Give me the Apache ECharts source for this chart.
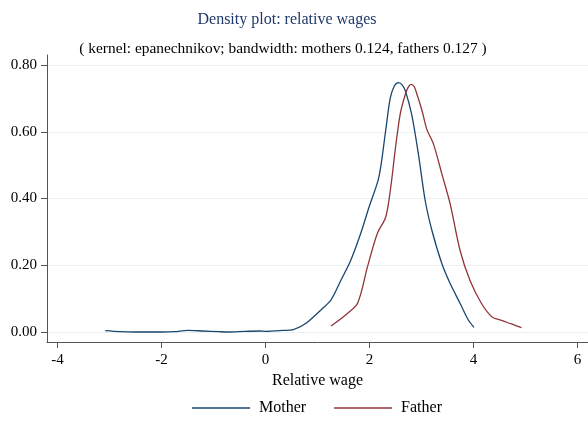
<!DOCTYPE html>
<html>
<head>
<meta charset="utf-8">
<script src="https://cdn.jsdelivr.net/npm/echarts@6/dist/echarts.min.js"></script>
<style>
    html, body { margin: 0; padding: 0; background: #fff; }
    #chart { width: 588px; height: 422px; }
</style>
</head>
<body>
<div id="chart"></div>
<script>
// --- data ---
const motherX = [-3.08, -2.8, -2.5, -2.0, -1.75, -1.5, -1.2, -0.9, -0.7, -0.4, -0.1, 0.0, 0.27, 0.55, 0.78, 1.10, 1.26, 1.45, 1.64, 1.83, 1.99, 2.18, 2.31, 2.40, 2.48, 2.56, 2.63, 2.69, 2.81, 2.94, 3.07, 3.20, 3.39, 3.55, 3.74, 3.90, 4.01];
const motherY = [0.004, 0.001, 0.0, 0.0, 0.001, 0.005, 0.003, 0.001, 0.0, 0.002, 0.003, 0.002, 0.004, 0.008, 0.026, 0.071, 0.096, 0.155, 0.215, 0.295, 0.374, 0.464, 0.603, 0.702, 0.738, 0.747, 0.740, 0.722, 0.652, 0.533, 0.394, 0.304, 0.205, 0.145, 0.086, 0.036, 0.014];
const fatherX = [1.26, 1.54, 1.77, 1.96, 2.15, 2.31, 2.40, 2.50, 2.59, 2.69, 2.75, 2.80, 2.86, 2.91, 3.01, 3.10, 3.23, 3.39, 3.55, 3.74, 3.93, 4.15, 4.35, 4.55, 4.73, 4.92];
const fatherY = [0.018, 0.051, 0.086, 0.195, 0.295, 0.344, 0.424, 0.553, 0.653, 0.713, 0.735, 0.742, 0.735, 0.713, 0.663, 0.608, 0.563, 0.474, 0.384, 0.245, 0.155, 0.086, 0.046, 0.034, 0.024, 0.013];
const xTicks = [-4, -2, 0, 2, 4, 6];
const yTicks = [0, 0.2, 0.4, 0.6, 0.8];

const serif = '"Liberation Serif", "DejaVu Serif", serif';
const chart = echarts.init(document.getElementById('chart'));

const pairs = (xs, ys) => xs.map((x, i) => [x, ys[i]]);
const lineIcon = 'path://M0,0 L60,0 L60,1.4 L0,1.4 Z';

chart.setOption({
    animation: false,
    backgroundColor: '#fff',
    title: [{
        text: 'Density plot: relative wages',
        left: 282, top: 7, textAlign: 'center',
        textStyle: { fontFamily: serif, fontSize: 16, fontWeight: 'normal', color: '#1f3a6a' }
    }, {
        text: '( kernel: epanechnikov; bandwidth: mothers 0.124, fathers 0.127 )',
        left: 278, top: 36, textAlign: 'center',
        textStyle: { fontFamily: serif, fontSize: 15.4, fontWeight: 'normal', color: '#000' }
    }],
    legend: {
        bottom: 1, left: 187,
        itemWidth: 58, itemHeight: 1.4, itemGap: 28,
        textStyle: { fontFamily: serif, fontSize: 16, color: '#000', padding: [0, 0, 0, 4] },
        data: [{ name: 'Mother', icon: lineIcon }, { name: 'Father', icon: lineIcon }]
    },
    grid: { left: 47, right: 0, top: 55, bottom: 80 },
    xAxis: {
        type: 'value', min: -4.2, max: 6.2,
        name: 'Relative wage', nameLocation: 'middle', nameGap: 29,
        nameTextStyle: { fontFamily: serif, fontSize: 16, color: '#000' },
        axisLine: { onZero: false, lineStyle: { color: '#555', width: 1 } },
        axisTick: { show: true, length: 6, customValues: xTicks, lineStyle: { color: '#555' } },
        axisLabel: { customValues: xTicks, fontFamily: serif, fontSize: 15, color: '#000', margin: 11 },
        splitLine: { show: false }
    },
    yAxis: {
        type: 'value', min: -0.03, max: 0.83,
        axisLine: { show: true, onZero: false, lineStyle: { color: '#555', width: 1 } },
        axisTick: { show: true, length: 6, customValues: yTicks, lineStyle: { color: '#555' } },
        axisLabel: {
            customValues: yTicks, fontFamily: serif, fontSize: 15, color: '#000', margin: 10,
            formatter: v => v.toFixed(2)
        },
        splitLine: { show: true, lineStyle: { color: '#eaf1f3', width: 1.2 } }
    },
    series: [{
        name: 'Mother', type: 'line', symbol: 'none', smooth: 0.3,
        lineStyle: { color: '#1a476f', width: 1.3 }, itemStyle: { color: '#1a476f' },
        data: pairs(motherX, motherY)
    }, {
        name: 'Father', type: 'line', symbol: 'none', smooth: 0.3,
        lineStyle: { color: '#90353b', width: 1.3 }, itemStyle: { color: '#90353b' },
        data: pairs(fatherX, fatherY)
    }]
});
</script>
</body>
</html>
